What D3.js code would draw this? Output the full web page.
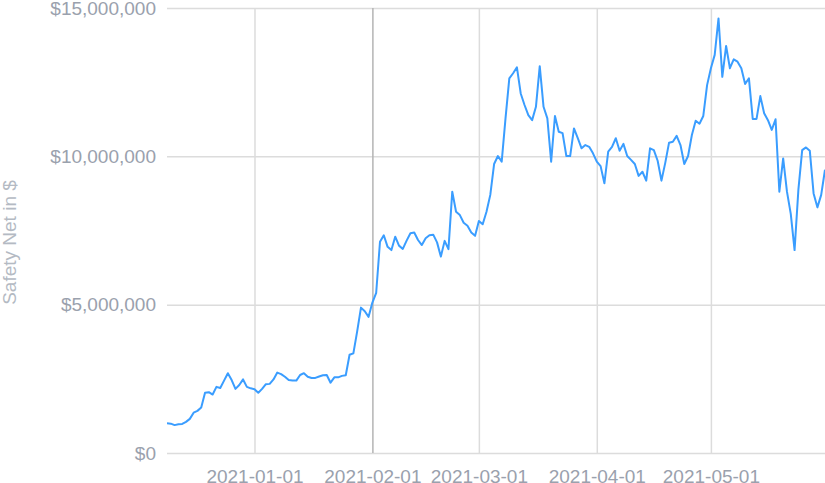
<!DOCTYPE html>
<html>
<head>
<meta charset="utf-8">
<script src="https://cdn.jsdelivr.net/npm/d3@7"></script>
<style>
  body { margin: 0; background: #fff; }
  svg text { font-family: "Liberation Sans", Arial, sans-serif; }
</style>
</head>
<body>
<div id="chart"></div>
<script>
// daily series, first day 2020-12-09, last day 2021-05-31 (values in $ millions)
var startDay = "2020-12-09";
var endDay = "2021-05-31";
var safetyNet = [
  1.00, 0.99, 0.94, 0.97, 0.98, 1.05, 1.15, 1.36, 1.42, 1.53,
  2.03, 2.05, 1.97, 2.23, 2.19, 2.44, 2.69, 2.46, 2.16, 2.29,
  2.48, 2.23, 2.18, 2.15, 2.03, 2.16, 2.32, 2.33, 2.48, 2.71,
  2.66, 2.57, 2.46, 2.44, 2.44, 2.63, 2.69, 2.57, 2.53, 2.53,
  2.58, 2.62, 2.63, 2.37, 2.55, 2.55, 2.60, 2.62, 3.31, 3.36,
  4.10, 4.90, 4.78, 4.59, 5.07, 5.40, 7.12, 7.34, 6.95, 6.84,
  7.29, 6.99, 6.88, 7.16, 7.41, 7.43, 7.18, 7.01, 7.24, 7.34,
  7.36, 7.10, 6.62, 7.15, 6.87, 8.81, 8.13, 8.02, 7.76, 7.66,
  7.43, 7.32, 7.82, 7.71, 8.13, 8.70, 9.74, 10.01, 9.82, 11.28,
  12.63, 12.80, 13.00, 12.12, 11.73, 11.39, 11.22, 11.67, 13.04, 11.67,
  11.28, 9.82, 11.36, 10.83, 10.78, 10.01, 10.01, 10.94, 10.61, 10.27,
  10.38, 10.32, 10.10, 9.82, 9.67, 9.09, 10.16, 10.32, 10.61, 10.19,
  10.42, 10.01, 9.88, 9.74, 9.34, 9.48, 9.18, 10.27, 10.21, 9.85,
  9.18, 9.78, 10.46, 10.49, 10.69, 10.38, 9.74, 10.01, 10.72, 11.20,
  11.10, 11.36, 12.40, 12.97, 13.42, 14.65, 12.68, 13.72, 12.97, 13.27,
  13.19, 12.97, 12.44, 12.63, 11.26, 11.26, 12.03, 11.45, 11.22, 10.89,
  11.25, 8.81, 9.93, 8.81, 8.06, 6.84, 8.87, 10.21, 10.30, 10.19,
  8.75, 8.28, 8.70, 9.55
];
var xTickLabels = ["2021-01-01", "2021-02-01", "2021-03-01", "2021-04-01", "2021-05-01"];
var yTickValues = [0, 5000000, 10000000, 15000000];
var yTitle = "Safety Net in $";

var W = 825, H = 483;
var plotL = 167, plotR = 825, plotT = 8, plotB = 453;

var parse = d3.utcParse("%Y-%m-%d");
var days = d3.utcDay.range(parse(startDay), d3.utcDay.offset(parse(endDay), 1));
var data = safetyNet.map(function (v, i) { return { date: days[i], value: v * 1e6 }; });

var svg = d3.select("#chart").append("svg")
  .attr("width", W)
  .attr("height", H);

var x = d3.scaleUtc()
  .domain([parse(startDay), parse(endDay)])
  .range([plotL, plotR]);

var y = d3.scaleLinear()
  .domain([0, 15000000])
  .range([plotB, plotT]);

var fmt = d3.format("$,");

// horizontal grid + y labels
var yAxis = svg.append("g")
  .attr("transform", "translate(" + plotL + ",0)")
  .call(d3.axisLeft(y).tickValues(yTickValues).tickSize(-(plotR - plotL)).tickPadding(11).tickFormat(fmt));
yAxis.select(".domain").remove();
yAxis.selectAll(".tick line").attr("stroke", "#dcdcdc").attr("stroke-width", 1.5);
yAxis.selectAll(".tick text")
  .attr("fill", "#9aa1ad")
  .style("font-size", "19px");

// vertical grid + x labels
var xTicks = xTickLabels.map(parse);
var xAxis = svg.append("g")
  .attr("transform", "translate(0," + plotB + ")")
  .call(d3.axisBottom(x).tickValues(xTicks).tickSize(-(plotB - plotT)).tickPadding(17).tickFormat(d3.utcFormat("%Y-%m-%d")));
xAxis.select(".domain").remove();
xAxis.selectAll(".tick line")
  .attr("stroke", function (d, i) { return i == 1 ? "#b4b4b4" : "#dcdcdc"; })
  .attr("stroke-width", 1.5);
xAxis.selectAll(".tick text")
  .attr("fill", "#9aa1ad")
  .style("font-size", "19px");

// y title
svg.append("text")
  .attr("transform", "translate(16," + ((plotT + plotB) / 2 + 12) + ") rotate(-90)")
  .attr("text-anchor", "middle")
  .attr("fill", "#b4bac3")
  .style("font-size", "19px")
  .text(yTitle);

// the line
var line = d3.line()
  .x(function (d) { return x(d.date); })
  .y(function (d) { return y(d.value); });

svg.append("path")
  .datum(data)
  .attr("fill", "none")
  .attr("stroke", "#3a9dff")
  .attr("stroke-width", 2)
  .attr("stroke-linejoin", "round")
  .attr("d", line);
</script>
</body>
</html>
